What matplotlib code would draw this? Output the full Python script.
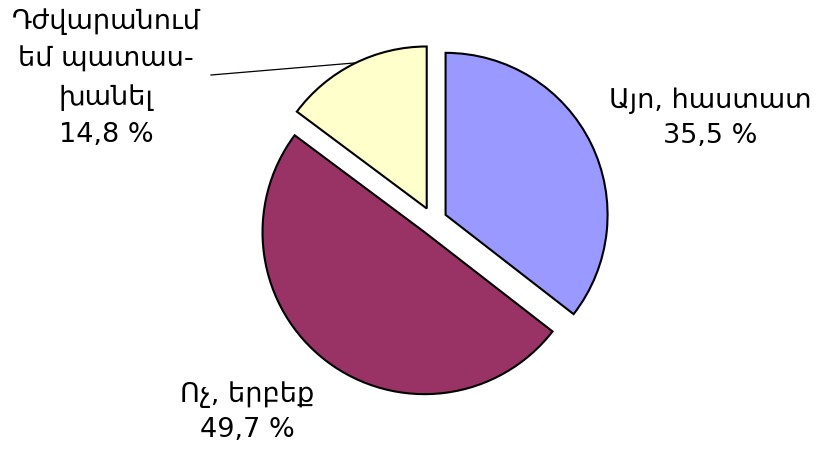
import matplotlib

matplotlib.use("Agg")

import matplotlib.pyplot as plt

labels = ["Այո, հաստատ", "Ոչ, երբեք", "Դժվարանում\nեմ պատաս-\nխանել"]
shares = [35.5, 49.7, 14.8]
colors = ["#9999FF", "#993366", "#FFFFCC"]

W, H = 822, 450
fig = plt.figure(figsize=(W / 100, H / 100), dpi=100)
ax = fig.add_axes([0, 0, 1, 1])

radius = 162
center = (433, H - 221)
ax.pie(
    shares,
    colors=colors,
    startangle=90,
    counterclock=False,
    radius=radius,
    center=center,
    explode=[14] * 3,  # offset in data units (pixels here)
    wedgeprops={"edgecolor": "black", "linewidth": 1.5},
    frame=True,
)
ax.set_xlim(0, W)
ax.set_ylim(0, H)
ax.set_aspect("equal")
ax.axis("off")

font = {"family": ["DejaVu Sans"], "fontsize": 19.5}
label_pos = [(710, H - 118), (247, H - 412), (106, H - 78)]
spacing = [1.45, 1.45, 1.55]
for text, share, (x, y), ls in zip(labels, shares, label_pos, spacing):
    pct = f"{share:.1f}".replace(".", ",") + " %"
    ax.text(x, y, f"{text}\n{pct}", ha="center", va="center", linespacing=ls, **font)

# leader line for the small slice
ax.plot([211, 354], [H - 75, H - 63], color="black", linewidth=0.9)

fig.savefig("out.png", dpi=100)
